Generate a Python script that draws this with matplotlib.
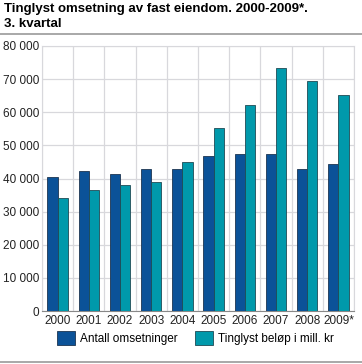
import matplotlib.pyplot as plt
import numpy as np

years = ["2000", "2001", "2002", "2003", "2004", "2005", "2006", "2007", "2008", "2009*"]
antall = [40400, 42200, 41400, 42900, 42900, 46700, 47300, 47500, 43000, 44400]
belop = [34000, 36400, 38000, 38900, 44900, 55200, 62100, 73300, 69300, 65100]
yticks = [0, 10000, 20000, 30000, 40000, 50000, 60000, 70000, 80000]

dark = "#0b5298"
teal = "#0099ab"

plt.rcParams['font.family'] = ['Liberation Sans', 'DejaVu Sans']

fig = plt.figure(figsize=(3.62, 3.64), dpi=100)
ax = fig.add_axes([42 / 362, 1 - 311 / 364, 312 / 362, 265 / 364])

x = np.arange(len(years))
w = 0.33
ax.bar(x - w / 2, antall, w, color=dark, edgecolor="#1d3550", linewidth=0.6,
       label="Antall omsetninger", zorder=3)
ax.bar(x + w / 2, belop, w, color=teal, edgecolor="#1f4a55", linewidth=0.6,
       label="Tinglyst beløp i mill. kr", zorder=3)

ax.set_xlim(-0.5, len(years) - 0.5)
ax.set_ylim(0, 80000)
ax.set_yticks(yticks)
ax.set_yticklabels([f"{v:,}".replace(",", " ") for v in yticks])
ax.set_xticks(x)
ax.set_xticklabels(years)
ax.set_xticks(np.arange(len(years) + 1) - 0.5, minor=True)
ax.grid(axis="y", color="#d8d8dc", linewidth=0.9, zorder=0)
ax.grid(axis="x", which="minor", color="#d8d8dc", linewidth=0.9, zorder=0)
ax.tick_params(axis="both", which="both", length=0, labelsize=8.5, colors="#222222")
ax.tick_params(axis="x", pad=3)
ax.tick_params(axis="y", pad=2)
for s in ["top", "right"]:
    ax.spines[s].set_color("#d8d8dc")
ax.spines["left"].set_color("#d8d8dc")
ax.spines["bottom"].set_color("#888888")

fig.text(4 / 362, 1 - 3 / 364, "Tinglyst omsetning av fast eiendom. 2000-2009*.\n3. kvartal",
         ha="left", va="top", fontsize=9.5, fontweight="bold", linespacing=1.3)
fig.add_artist(plt.Line2D([0, 1], [1 - 34 / 364, 1 - 34 / 364], color="#999999", linewidth=1.2))
fig.add_artist(plt.Line2D([0, 1], [1 - 362 / 364, 1 - 362 / 364], color="#999999", linewidth=1.2))

fig.legend(loc="center", bbox_to_anchor=(0.54, 1 - 338 / 364), ncol=2, frameon=False,
           fontsize=8.5, handlelength=1.5, handleheight=1.5, columnspacing=1.5, handletextpad=0.4)

fig.savefig("out.png", dpi=100)
